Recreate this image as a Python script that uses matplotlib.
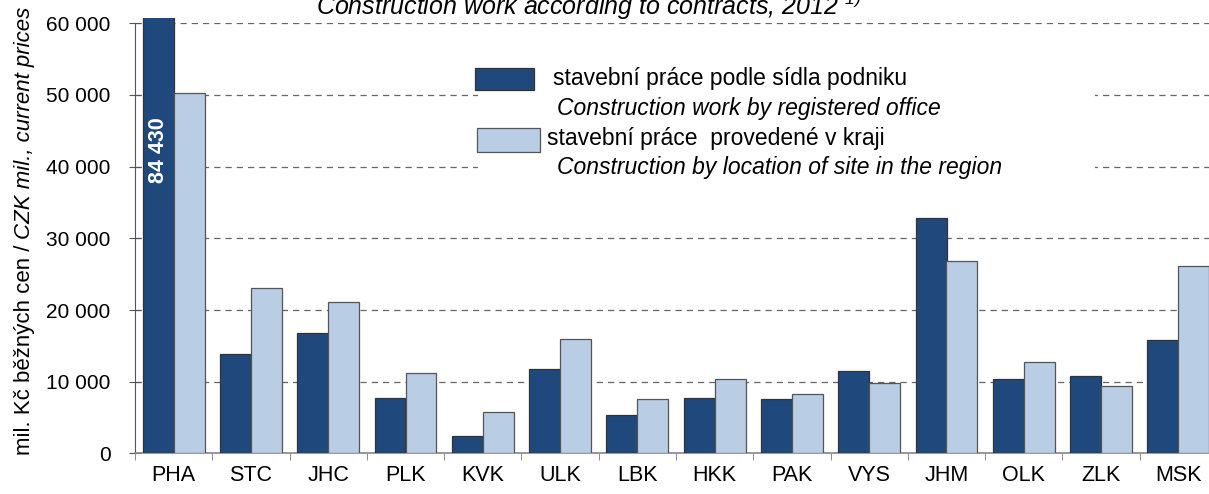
import numpy as np
import matplotlib
matplotlib.use('Agg')
import matplotlib.pyplot as plt
from matplotlib.patches import Rectangle

plt.rcParams['font.family'] = ['Liberation Sans', 'DejaVu Sans']
plt.rcParams['mathtext.fontset'] = 'custom'
plt.rcParams['mathtext.rm'] = 'Liberation Sans:italic'
plt.rcParams['mathtext.it'] = 'Liberation Sans:italic'

#==============================================================================
###  Data
#==============================================================================
regions    = ['PHA', 'STC', 'JHC', 'PLK', 'KVK', 'ULK', 'LBK',
              'HKK', 'PAK', 'VYS', 'JHM', 'OLK', 'ZLK', 'MSK']
registered = [84430, 13820, 16750, 7680, 2380, 11730, 5310,
              7680, 7540, 11450, 32790, 10330, 10750, 15770]
in_region  = [50310, 23110, 21070, 11170, 5730, 15910, 7540,
              10330, 8240, 9780, 26790, 12710, 9440, 26100]
yticks     = [0, 10000, 20000, 30000, 40000, 50000, 60000]

leg_cz = ['stavební práce podle sídla podniku', 'stavební práce  provedené v kraji']
leg_en = ['Construction work by registered office', 'Construction by location of site in the region']
title  = 'Construction work according to contracts, 2012 $^{1)}$'

dark  = '#1F497D'
light = '#B9CDE5'

W, H = 1209, 494
def px(x, y):
    return x / W, 1 - y / H

fig = plt.figure(figsize=(W / 100, H / 100), dpi=100)
ax = fig.add_axes([135 / W, (H - 453.4) / H, 1082 / W, 430.2 / H])

x = np.arange(len(regions))
bw = 0.4
b1 = ax.bar(x - bw / 2, registered, bw, color=dark, edgecolor='#333333', linewidth=0.9, zorder=3)
b2 = ax.bar(x + bw / 2, in_region, bw, color=light, edgecolor='#555555', linewidth=0.9, zorder=3)

# the PHA bar runs over the top of the axis; let it poke out a little
clip = Rectangle((0, 0), 1, 1.012, transform=ax.transAxes)
for p in b1:
    p.set_clip_path(clip)

ax.text(x[0] - bw / 2, 42300, '{:,}'.format(registered[0]).replace(',', ' '),
        rotation=90, ha='center', va='center', color='white',
        fontsize=15.5, fontweight='bold', zorder=4)

ax.set_xlim(-0.5, len(regions) - 0.5)
ax.set_ylim(0, 60000)
ax.set_yticks(yticks)
ax.set_yticklabels(['{:,}'.format(v).replace(',', ' ') for v in yticks], fontsize=15)
ax.set_xticks(x)
ax.set_xticklabels(regions, fontsize=15.5)
ax.set_xticks(np.arange(len(regions) + 1) - 0.5, minor=True)
ax.tick_params(axis='x', which='major', length=0, pad=8)
ax.tick_params(axis='x', which='minor', length=5, direction='out', color='#777777')
ax.tick_params(axis='y', length=9, direction='inout', color='#555555', pad=13)

for s in ['top', 'right']:
    ax.spines[s].set_visible(False)
ax.spines['left'].set_color('#555555')
ax.spines['bottom'].set_color('#888888')
ax.spines['bottom'].set_linewidth(1.2)

ax.yaxis.grid(True, color='#666666', linestyle=(0, (5, 4)), linewidth=0.9, zorder=0)
ax.set_axisbelow(True)

# legend box (white, hides the grid behind it)
ax.add_patch(Rectangle(px(478, 190), 617 / W, 130 / H, transform=fig.transFigure,
                       facecolor='white', edgecolor='none', zorder=2))
fig.patches.append(Rectangle(px(475, 90), 59 / W, 22 / H, transform=fig.transFigure,
                             facecolor=dark, edgecolor='#333333', linewidth=0.9, zorder=5))
fig.patches.append(Rectangle(px(477, 152), 63 / W, 24 / H, transform=fig.transFigure,
                             facecolor=light, edgecolor='#555555', linewidth=0.9, zorder=5))
fig.text(*px(553, 79), leg_cz[0], fontsize=16.5, va='center', ha='left')
fig.text(*px(557, 108), leg_en[0], fontsize=16.5, va='center', ha='left', style='italic')
fig.text(*px(547, 138), leg_cz[1], fontsize=16.5, va='center', ha='left')
fig.text(*px(557, 167), leg_en[1], fontsize=16.5, va='center', ha='left', style='italic')

fig.text(*px(316, 14.5), title, fontsize=18, style='italic', ha='left', va='baseline')

# y label: plain czech part, then italic english part
t1 = fig.text(*px(25, 455), 'mil. Kč běžných cen / ', rotation=90, fontsize=16,
              ha='center', va='bottom')
fig.canvas.draw()
bb = t1.get_window_extent()
fig.text(25 / W, bb.y1 / H, 'CZK mil., current prices', rotation=90, fontsize=16,
         ha='center', va='bottom', style='italic')

fig.savefig('out.png', dpi=100)
